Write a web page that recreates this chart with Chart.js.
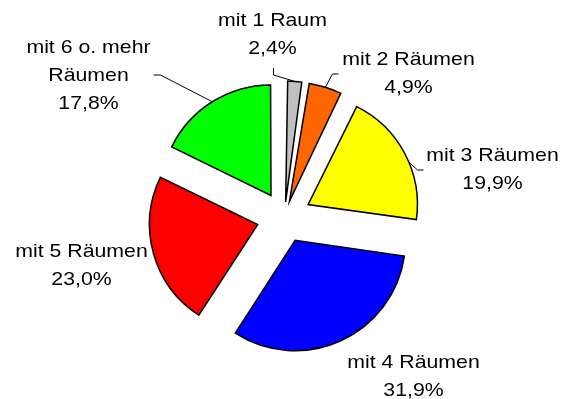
<!DOCTYPE html>
<html>
<head>
<meta charset="utf-8">
<script src="https://cdn.jsdelivr.net/npm/chart.js@4/dist/chart.umd.min.js"></script>
<style>
  html, body { margin: 0; padding: 0; background: #ffffff; }
  #wrap { width: 569px; height: 399px; position: relative; }
</style>
</head>
<body>
<div id="wrap"><canvas id="pie"></canvas></div>
<script>
// Wohnungen nach Anzahl der Räume (Anteile in %)
const categories = [
  ['mit 1 Raum'],
  ['mit 2 Räumen'],
  ['mit 3 Räumen'],
  ['mit 4 Räumen'],
  ['mit 5 Räumen'],
  ['mit 6 o. mehr', 'Räumen']
];
const shares = [2.4, 4.9, 19.9, 31.9, 23.0, 17.8];
const sliceColors = ['#C0C0C0', '#FF6600', '#FFFF00', '#0000FF', '#FF0000', '#00FF00'];

// Every slice is pulled out of the pie by the same distance (px)
const EXPLODE = 28;

// Label block centres relative to the pie centre, and optional leader lines
// (attach = position along the slice's arc, elbow/end relative to label centre)
const labelOffsets = [[-12, -182], [124, -143], [208, -47], [129, 160], [-203, 49], [-196, -141]];
const leaders = [
  { attach: 0.5, elbow: [1, 40], end: [1, 33] },
  { attach: 0.5, elbow: [-76, 0], end: [-70, 0] },
  { attach: 0.57, elbow: [-75, 0], end: [-69, 0] },
  null,
  null,
  { attach: 0.5, elbow: [72, -1], end: [65, -1] }
];

const fmt = v => v.toFixed(1).replace('.', ',') + '%';
const total = shares.reduce((a, b) => a + b, 0);

// ArcElement moves a slice by offset/4 * (2 - sin(min(PI, circumference))),
// so pick the option value that yields the same visible distance for all slices.
function offsetFor(i) {
  const circ = shares[i] / total * Math.PI * 2;
  const fix = 1 - Math.sin(Math.min(Math.PI, circ));
  return 4 * EXPLODE / (1 + fix);
}

const labelPlugin = {
  id: 'sliceLabels',
  afterDatasetsDraw(chart) {
    const ctx = chart.ctx;
    const meta = chart.getDatasetMeta(0);
    ctx.save();
    meta.data.forEach((arc, i) => {
      const p = arc.getProps(['x', 'y', 'startAngle', 'endAngle', 'outerRadius'], true);
      const lx = p.x + labelOffsets[i][0];
      const ly = p.y + labelOffsets[i][1];

      const ld = leaders[i];
      if (ld) {
        const mid = (p.startAngle + p.endAngle) / 2;
        const a = p.startAngle + (p.endAngle - p.startAngle) * ld.attach;
        const sx = p.x + Math.cos(mid) * EXPLODE + Math.cos(a) * p.outerRadius;
        const sy = p.y + Math.sin(mid) * EXPLODE + Math.sin(a) * p.outerRadius;
        ctx.beginPath();
        ctx.moveTo(sx, sy);
        ctx.lineTo(lx + ld.elbow[0], ly + ld.elbow[1]);
        ctx.lineTo(lx + ld.end[0], ly + ld.end[1]);
        ctx.strokeStyle = '#000000';
        ctx.lineWidth = 1;
        ctx.stroke();
      }

      const lines = categories[i].concat([fmt(shares[i])]);
      const lh = 28;
      ctx.fillStyle = '#000000';
      ctx.font = '19px "Liberation Sans", Arial, sans-serif';
      ctx.textAlign = 'center';
      ctx.textBaseline = 'middle';
      lines.forEach((t, k) => {
        const y = ly + (k - (lines.length - 1) / 2) * lh;
        ctx.save();
        ctx.translate(lx, y);
        ctx.scale(1.12, 1);
        ctx.fillText(t, 0, 0);
        ctx.restore();
      });
    });
    ctx.restore();
  }
};

new Chart(document.getElementById('pie'), {
  type: 'pie',
  data: {
    labels: categories.map(c => c.join(' ')),
    datasets: [{
      data: shares,
      backgroundColor: sliceColors,
      borderColor: '#000000',
      borderWidth: 1.5,
      borderJoinStyle: 'miter',
      offset: ctx => offsetFor(ctx.dataIndex)
    }]
  },
  options: {
    responsive: true,
    maintainAspectRatio: false,
    animation: false,
    radius: 108,
    layout: { padding: { top: 35, left: 0, right: 0, bottom: 0 } },
    plugins: {
      legend: { display: false },
      tooltip: { enabled: false }
    }
  },
  plugins: [labelPlugin]
});
</script>
</body>
</html>
